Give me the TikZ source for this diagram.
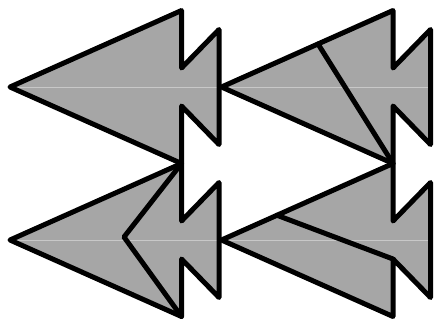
\documentclass[tikz,border=0pt]{standalone}
\usetikzlibrary{calc}
\definecolor{shapefill}{RGB}{166,166,166}
\definecolor{seamcol}{RGB}{200,200,200}
\begin{document}
\begin{tikzpicture}[x=1pt,y=-1pt,
  outline/.style={draw=black,line width=5pt,line join=round,line cap=round},
  seamline/.style={draw=seamcol,line width=0.7pt}]
\useasboundingbox (0,0) rectangle (435,322);
\foreach \n/\x/\y in {A/10/87,B/221.5/87,C/10/240,D/221.5/240}{
  \begin{scope}[shift={(\x,\y)}]
    \coordinate (\n-tip) at (0,0);
    \coordinate (\n-top) at (171.5,-76.5);
    \coordinate (\n-n1) at (171.5,-19);
    \coordinate (\n-st) at (209,-57.5);
    \coordinate (\n-sb) at (209,57.5);
    \coordinate (\n-n2) at (171.5,19);
    \coordinate (\n-bot) at (171.5,76.5);
    \coordinate (\n-right) at (209,0);
  \end{scope}
}
\coordinate (B-e) at ($(B-tip)!0.5627!(B-top)$);
\coordinate (C-v) at ($(C-tip)+(114,-3)$);
\coordinate (D-e) at ($(D-tip)!0.3236!(D-top)$);
\foreach \n in {A,B,C,D}{
  \fill[shapefill] (\n-tip) -- (\n-top) -- (\n-n1) -- (\n-st) -- (\n-sb) -- (\n-n2) -- (\n-bot) -- cycle;
}
\foreach \n in {A,B,C,D}{
  \draw[seamline] (\n-tip) -- (\n-right);
}
\foreach \n in {A,B,C,D}{
  \draw[outline] (\n-tip) -- (\n-top) -- (\n-n1) -- (\n-st) -- (\n-sb) -- (\n-n2) -- (\n-bot) -- cycle;
}
\draw[outline] (B-e) -- (B-bot);
\draw[outline] (C-top) -- (C-v) -- (C-bot);
\draw[outline] (D-e) -- (D-n2);
\end{tikzpicture}
\end{document}
